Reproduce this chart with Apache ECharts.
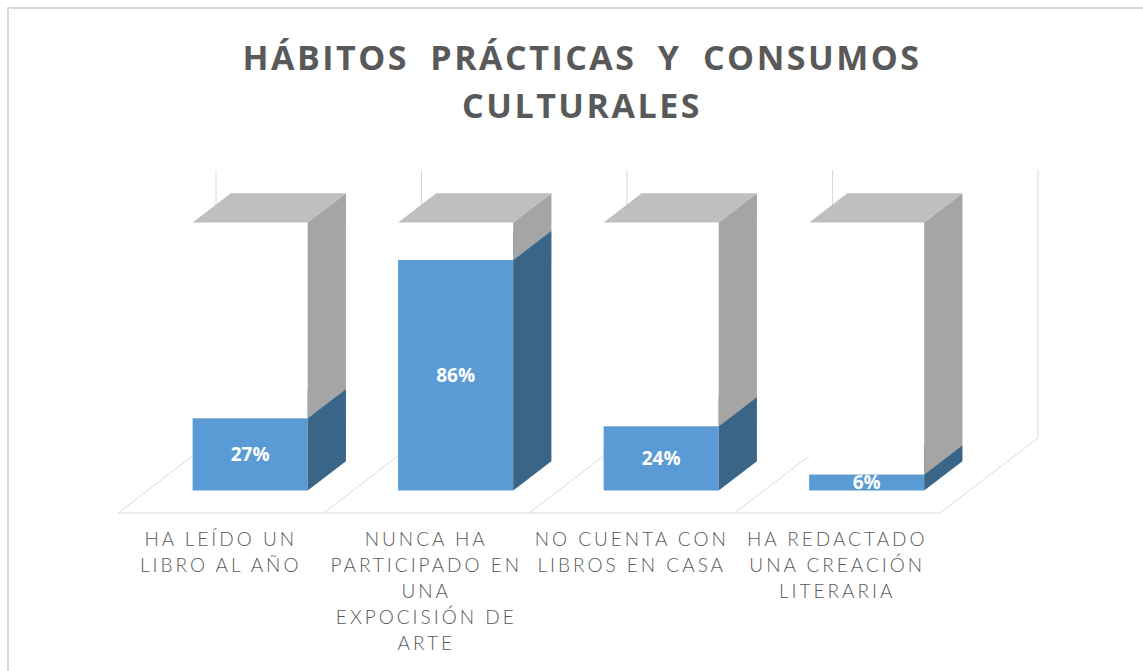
<!DOCTYPE html>
<html>
<head>
<meta charset="utf-8">
<script src="https://cdn.jsdelivr.net/npm/echarts@6/dist/echarts.min.js"></script>
<style>
html, body { margin: 0; padding: 0; background: #fff; }
#chart { width: 1143px; height: 671px; }
/* espaciado de letras como en el original */
#chart text[style*="Lato"] { letter-spacing: 3px; }
#chart text[style*="34px"] { letter-spacing: 2.5px; word-spacing: 10px; }
</style>
</head>
<body>
<div id="chart"></div>
<script>
var categorias = [
  'HA LEÍDO UN\nLIBRO AL AÑO',
  'NUNCA HA\nPARTICIPADO EN\nUNA\nEXPOCISIÓN DE\nARTE',
  'NO CUENTA CON\nLIBROS EN CASA',
  'HA REDACTADO\nUNA CREACIÓN\nLITERARIA'
];
var porcentajes = [27, 86, 24, 6];
var restante = [73, 14, 76, 94];
var titulo = 'HÁBITOS PRÁCTICAS Y CONSUMOS\nCULTURALES';

// profundidad del piso 3D y posicion de las barras dentro de ella
var PROF = [98, -75];
var FRENTE = 0.3, FONDO = 0.69;

function caraBarra(api, i, desde, hasta) {
  var base = api.coord([i, desde]);
  var tope = api.coord([i, hasta]);
  var w = api.size([1, 0])[0] * 0.56;
  var x0 = base[0] - w / 2 + PROF[0] * FRENTE;
  var x1 = x0 + w;
  var y0 = base[1] + PROF[1] * FRENTE;
  var y1 = tope[1] + PROF[1] * FRENTE;
  var dx = PROF[0] * (FONDO - FRENTE), dy = PROF[1] * (FONDO - FRENTE);
  return { x0: x0, x1: x1, y0: y0, y1: y1, dx: dx, dy: dy };
}

function renderBarra(colFrente, colLado, colTope) {
  return function (params, api) {
    var c = caraBarra(api, api.value(0), api.value(1), api.value(2));
    return {
      type: 'group',
      children: [
        { type: 'polygon', shape: { points: [[c.x0, c.y0], [c.x1, c.y0], [c.x1, c.y1], [c.x0, c.y1]] }, style: { fill: colFrente } },
        { type: 'polygon', shape: { points: [[c.x1, c.y0], [c.x1 + c.dx, c.y0 + c.dy], [c.x1 + c.dx, c.y1 + c.dy], [c.x1, c.y1]] }, style: { fill: colLado } },
        { type: 'polygon', shape: { points: [[c.x0, c.y1], [c.x1, c.y1], [c.x1 + c.dx, c.y1 + c.dy], [c.x0 + c.dx, c.y1 + c.dy]] }, style: { fill: colTope } }
      ]
    };
  };
}

function renderPiso(params, api) {
  var i = api.value(0);
  var band = api.size([1, 0])[0];
  var p0 = api.coord([i, 0]);
  var p100 = api.coord([i, 100]);
  var linea = { stroke: '#d9d9d9', lineWidth: 1 };
  var bordes = [p0[0] - band / 2];
  if (i === categorias.length - 1) bordes.push(p0[0] + band / 2);
  var children = [
    { type: 'line', shape: { x1: p0[0] - band / 2, y1: p0[1], x2: p0[0] + band / 2, y2: p0[1] }, style: linea }
  ];
  bordes.forEach(function (x) {
    children.push({ type: 'line', shape: { x1: x, y1: p0[1], x2: x + PROF[0], y2: p0[1] + PROF[1] }, style: linea });
    children.push({ type: 'line', shape: { x1: x + PROF[0], y1: p0[1] + PROF[1], x2: x + PROF[0], y2: p100[1] + PROF[1] }, style: linea });
  });
  return { type: 'group', children: children };
}

function renderEtiqueta(params, api) {
  var c = caraBarra(api, api.value(0), 0, api.value(1));
  return {
    type: 'text',
    style: {
      text: api.value(1) + '%',
      x: (c.x0 + c.x1) / 2,
      y: (c.y0 + c.y1) / 2,
      fill: '#ffffff',
      fontSize: 19,
      fontWeight: 'bold',
      fontFamily: 'Open Sans',
      align: 'center',
      verticalAlign: 'middle'
    }
  };
}

var chart = echarts.init(document.getElementById('chart'), null, { renderer: 'svg' });
chart.setOption({
  animation: false,
  backgroundColor: '#ffffff',
  grid: { left: 118, right: 203, top: 245, bottom: 158 },
  xAxis: {
    type: 'category',
    data: categorias,
    axisLine: { show: false },
    axisTick: { show: false },
    axisLabel: {
      interval: 0,
      margin: 12,
      color: '#595959',
      fontSize: 19,
      lineHeight: 26,
      fontFamily: 'Lato',
      fontWeight: 300
    },
    splitLine: { show: false }
  },
  yAxis: {
    type: 'value',
    min: 0,
    max: 100,
    show: false
  },
  graphic: [
    { type: 'rect', shape: { x: 8, y: 8, width: 1200, height: 700 }, style: { fill: 'none', stroke: '#d9d9d9', lineWidth: 2 }, z: -1 },
    {
      type: 'text', x: 582, y: 33,
      style: { text: titulo, fill: '#595959', fontSize: 34, fontWeight: 'bold', fontFamily: 'Open Sans', lineHeight: 48, align: 'center' }
    }
  ],
  series: [
    {
      type: 'custom', name: 'piso', z: 1,
      data: categorias.map(function (c, i) { return [i]; }),
      encode: { x: 0 },
      renderItem: renderPiso
    },
    {
      type: 'custom', name: 'Sí', z: 2,
      data: porcentajes.map(function (v, i) { return [i, 0, v]; }),
      encode: { x: 0, y: [1, 2] },
      renderItem: renderBarra('#5b9bd5', '#3a6587', '#41719c')
    },
    {
      type: 'custom', name: 'No', z: 2,
      data: restante.map(function (v, i) { return [i, porcentajes[i], porcentajes[i] + v]; }),
      encode: { x: 0, y: [1, 2] },
      renderItem: renderBarra('#ffffff', '#a5a5a5', '#bfbfbf')
    },
    {
      type: 'custom', name: 'etiquetas', z: 3,
      data: porcentajes.map(function (v, i) { return [i, v]; }),
      encode: { x: 0, y: 1 },
      renderItem: renderEtiqueta
    }
  ]
});
window.addEventListener('resize', function () { chart.resize(); });
</script>
</body>
</html>
